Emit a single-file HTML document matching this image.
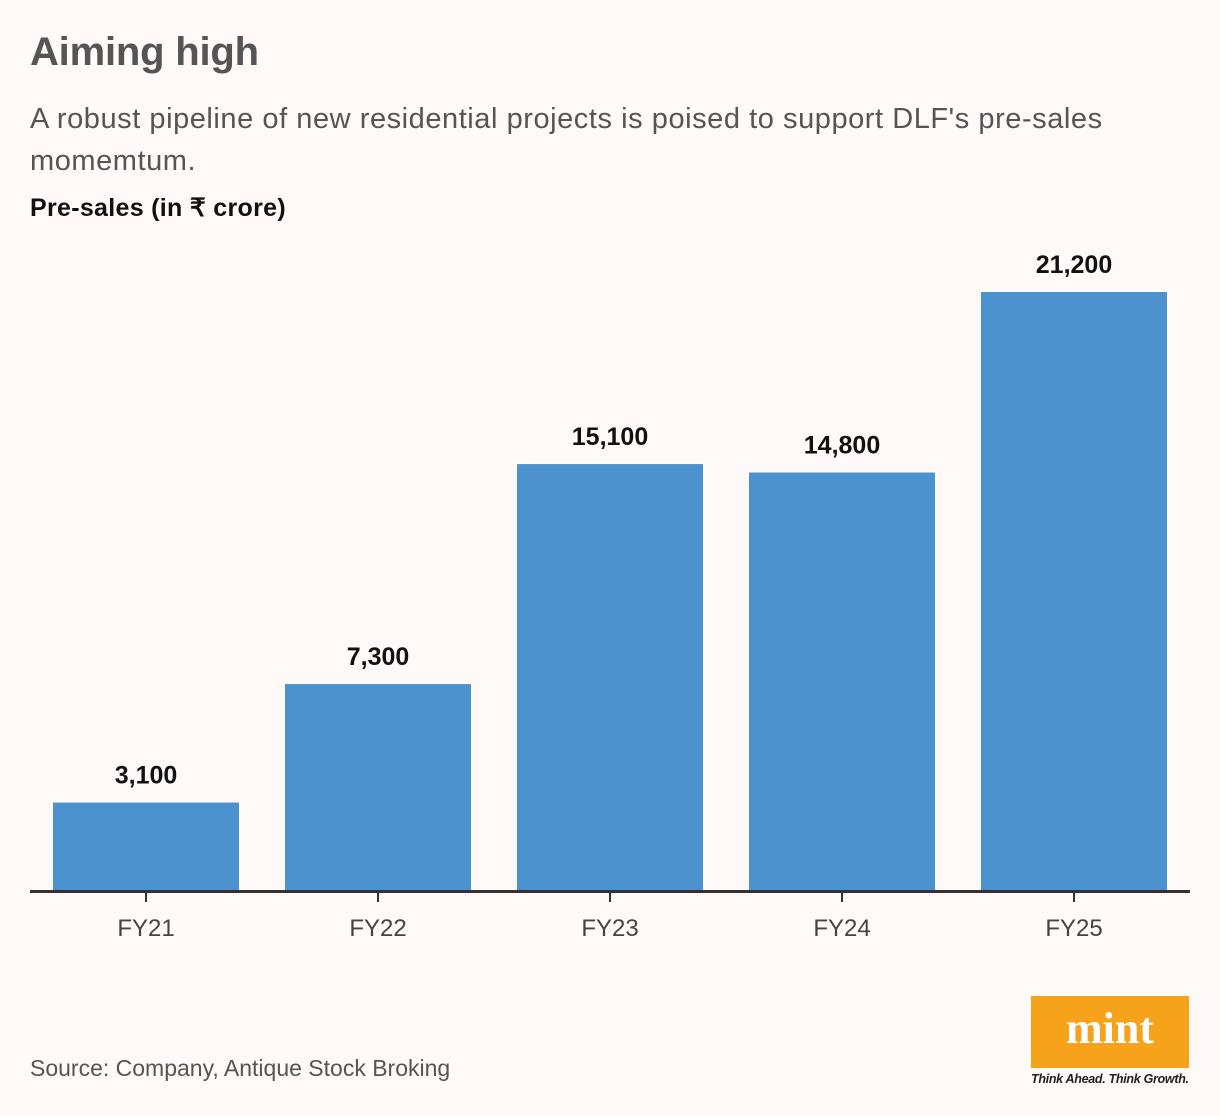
<!DOCTYPE html>
<html><head><meta charset="utf-8"><style>
body{margin:0;background:#fff9f8;width:1220px;height:1116px;overflow:hidden;font-family:"Liberation Sans",sans-serif;position:relative}
.t{position:absolute;margin:0}
</style></head><body>
<h1 class="t" style="left:30px;top:30px;font-size:40px;font-weight:bold;color:#555;letter-spacing:-0.2px">Aiming high</h1>
<p class="t" style="left:30px;top:98px;width:1120px;font-size:29px;line-height:42px;color:#555;letter-spacing:0.55px">A robust pipeline of new residential projects is poised to support DLF's pre-sales momemtum.</p>
<p class="t" style="left:30px;top:193px;font-size:25px;font-weight:bold;color:#111;letter-spacing:0.3px">Pre-sales (in ₹ crore)</p>
<svg id="chart" style="position:absolute;left:0;top:0" width="1220" height="1000"></svg>
<p class="t" style="left:30px;top:1055px;font-size:23px;color:#555">Source: Company, Antique Stock Broking</p>
<div style="position:absolute;left:1031px;top:996px;width:158px;height:72px;background:#f7a21b;color:#fff;font-family:'Liberation Serif',serif;font-weight:bold;font-size:44px;text-align:center;line-height:66px">mint</div>
<p class="t" style="left:1031px;top:1072px;font-size:12.5px;font-style:italic;font-weight:bold;color:#222;letter-spacing:-0.3px">Think Ahead. Think Growth.</p>
<script>
const categories=["FY21","FY22","FY23","FY24","FY25"];
const values=[3100,7300,15100,14800,21200];
const valueLabels=["3,100","7,300","15,100","14,800","21,200"];
const svg=document.getElementById('chart');const NS="http://www.w3.org/2000/svg";
const base=890,scale=598/21200,x0=53,step=232,bw=186;
const y=v=>base-v*scale, x=i=>x0+i*step;
function mk(t,a){const e=document.createElementNS(NS,t);for(const k in a)e.setAttribute(k,a[k]);svg.appendChild(e);return e;}
categories.forEach((c,i)=>{
 const r=mk('rect',{x:x(i),y:y(values[i]),width:bw,height:base-y(values[i]),fill:'#4b92cf'});
 
 
 const l=mk('text',{x:x(i)+bw/2,y:y(values[i])-19,'text-anchor':'middle','font-size':25,'font-weight':'bold',fill:'#111','font-family':'Liberation Sans'});
 l.textContent=valueLabels[i];
 
 
 const tk=mk('line',{x1:x(i)+bw/2,x2:x(i)+bw/2,y1:base,y2:902,stroke:'#333','stroke-width':2});
 
 
 const cl=mk('text',{x:x(i)+bw/2,y:936,'text-anchor':'middle','font-size':24,fill:'#444','font-family':'Liberation Sans'});
 cl.textContent=c;
 
 
});
const ax=mk('line',{x1:30,x2:1190,y1:base+1.5,y2:base+1.5,stroke:'#333','stroke-width':3});


</script>
</body></html>
